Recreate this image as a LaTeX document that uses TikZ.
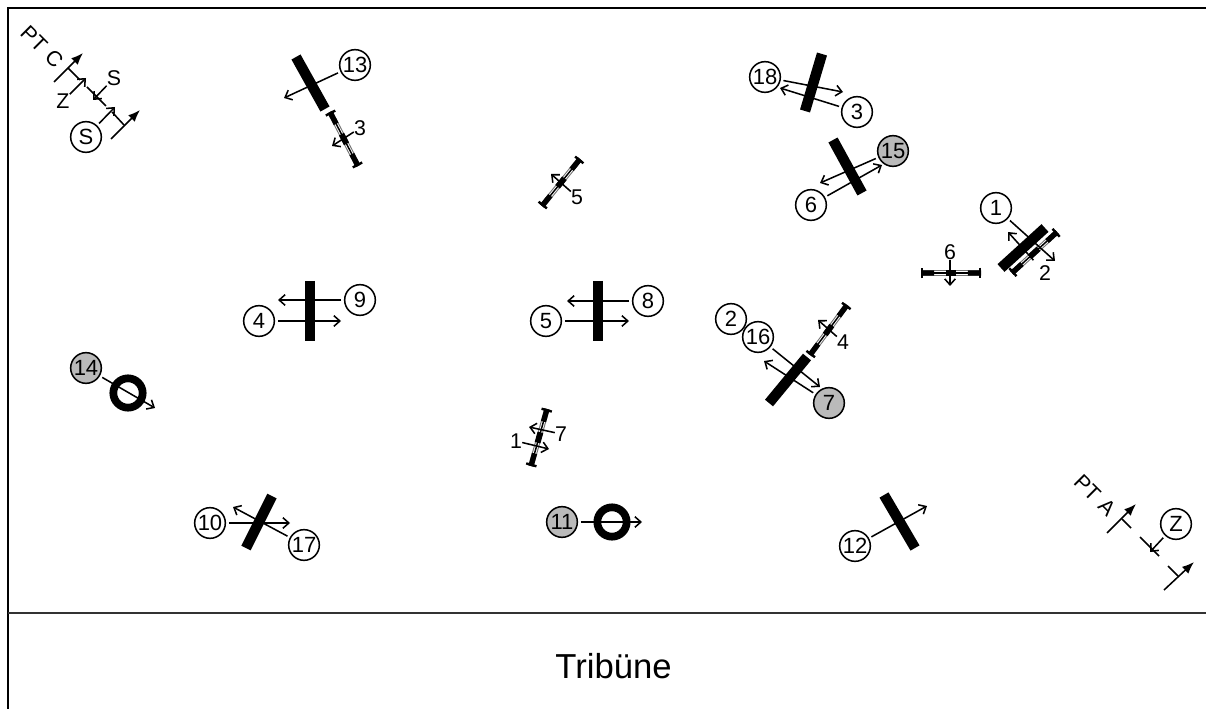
\documentclass[tikz,border=0pt]{standalone}
\usepackage{fontspec}
\setmainfont{Liberation Sans}
\usetikzlibrary{arrows.meta,calc}
\tikzset{
  num/.style={circle,draw=black,line width=1.15pt,fill=white,minimum size=23pt,inner sep=0pt,font=\fontsize{16.5}{16.5}\selectfont},
  numg/.style={num,fill=black!27},
  lab/.style={inner sep=0pt,font=\fontsize{16}{16}\selectfont},
  bar/.style={line width=7.8pt,black},
  ringo/.style={circle,draw=black,line width=5.8pt,minimum size=22pt,inner sep=0pt,fill=none},
  arr/.style={line width=1.15pt,-{Straight Barb[length=4.5pt,width=8pt,line width=1.15pt]}},
  arrc/.style={arr,shorten <=2pt},
  pole/.style={line width=1.15pt,-{Latex[length=9pt,width=7pt]}},
  plain/.style={line width=1.15pt}
}
% small obstacle: A, B
\newcommand{\obst}[2]{%
  \draw[line width=4pt,black!55] (#1) -- (#2);
  \draw[line width=2.4pt,white] (#1) -- (#2);
  \draw[line width=4pt,black] (#1) -- ($(#1)!0.22!(#2)$);
  \draw[line width=4pt,black] ($(#1)!0.78!(#2)$) -- (#2);
  \draw[line width=4.4pt,black] ($(#1)!0.41!(#2)$) -- ($(#1)!0.59!(#2)$);
  \draw[line width=1.1pt,{Bar[width=8pt,line width=1.8pt]}-{Bar[width=8pt,line width=1.8pt]}] (#1) -- (#2);
}
\begin{document}
\begin{tikzpicture}[x=0.75pt,y=-0.75pt]
\useasboundingbox (0,0) rectangle (1206,709);
\fill[white] (0,0) rectangle (1206,709);
\draw[line width=2pt] (8,709) -- (8,8) -- (1206,8);
\draw[line width=1.5pt,black!80] (8,613) -- (1206,613);
\node[font=\fontsize{26}{26}\selectfont,inner sep=0pt] (trib) at (613.5,666) {Tribüne};

% PT C
\node[lab,rotate=-45] (ptc) at (42,46.5) {PT\,\,C};
\coordinate (c1a) at (54,82); \coordinate (c1b) at (83,53);
\coordinate (c2a) at (111,139); \coordinate (c2b) at (140,110);
\draw[pole] (c1a) -- (c1b);
\draw[pole] (c2a) -- (c2b);
\coordinate (c1m) at (68,68); \coordinate (c2m) at (124,125);
\draw[plain] (c1m) -- (80,80);
\draw[plain] (87,87) -- (106,106);
\draw[plain] (112,112) -- (c2m);
\node[lab] (cz) at (63,101) {Z};
\node[lab] (cs) at (114,78) {S};
\node[num] (sc) at (86,137) {S};
\coordinate (czh) at (86,78); \coordinate (csh) at (93,100); \coordinate (cch) at (115,107);
\draw[arr] (cz) -- (czh);
\draw[arr] (cs) -- (csh);
\draw[arrc] (sc) -- (cch);

% PT A
\node[lab,rotate=-45] (pta) at (1095,495) {PT\,\,A};
\coordinate (a1a) at (1107,533); \coordinate (a1b) at (1136,504);
\coordinate (a2a) at (1164,590); \coordinate (a2b) at (1194,562);
\draw[pole] (a1a) -- (a1b);
\draw[pole] (a2a) -- (a2b);
\coordinate (a1m) at (1122,519); \coordinate (a2m) at (1178,576);
\draw[plain] (a1m) -- (1131,528);
\draw[plain] (1140,537) -- (1159,556);
\draw[plain] (1168,566) -- (a2m);
\node[num] (zc) at (1176,524) {Z};
\coordinate (azh) at (1150,552);
\draw[arrc] (zc) -- (azh);

% 13 + 3
\coordinate (b13a) at (296,57); \coordinate (b13b) at (325,109);
\draw[bar] (b13a) -- (b13b);
\node[num] (n13) at (355,65) {13};
\coordinate (h13) at (284,98);
\draw[arrc] (n13) -- (h13);
\coordinate (o3a) at (330,112); \coordinate (o3b) at (358,166);
\obst{o3a}{o3b}
\node[lab] (t3) at (360,128) {3};
\coordinate (h3) at (332,146);
\draw[arr] (t3) -- (h3);

% 5 small
\coordinate (o5a) at (542,206); \coordinate (o5b) at (580,159);
\obst{o5a}{o5b}
\node[lab] (t5) at (577,197) {5};
\coordinate (h5) at (551,174);
\draw[arr] (t5) -- (h5);

% 7 / 1 small
\coordinate (o7a) at (531,466); \coordinate (o7b) at (547,409);
\obst{o7a}{o7b}
\node[lab] (t7) at (561,434) {7};
\node[lab] (t1) at (516,441) {1};
\coordinate (h7) at (529,427); \coordinate (h1) at (549,449);
\draw[arr] (t7) -- (h7);
\draw[arr] (t1) -- (h1);

% 6 small
\coordinate (o6a) at (921,273); \coordinate (o6b) at (981,273);
\obst{o6a}{o6b}
\node[lab] (t6) at (950,252) {6};
\coordinate (h6) at (950,286);
\draw[arr] (t6) -- (h6);

% 1 / 2
\coordinate (o2a) at (1012,273); \coordinate (o2b) at (1057,232);
\obst{o2a}{o2b}
\coordinate (b1a) at (1001,268); \coordinate (b1b) at (1045,228);
\draw[bar] (b1a) -- (b1b);
\node[num] (n1) at (996,208) {1};
\node[lab] (t2) at (1045,273) {2};
\coordinate (h1b) at (1055,261); \coordinate (h2) at (1008,232);
\draw[arrc] (n1) -- (h1b);
\draw[arr,shorten <=6pt] (t2) -- (h2);

% 4 small, 2 / 16 / 7
\coordinate (o4a) at (810,355); \coordinate (o4b) at (847,305);
\obst{o4a}{o4b}
\node[lab] (t4) at (843,342) {4};
\coordinate (h4) at (818,320);
\draw[arr] (t4) -- (h4);
\coordinate (b7a) at (769,403); \coordinate (b7b) at (807,357);
\draw[bar] (b7a) -- (b7b);
\node[num] (n2) at (731,319) {2};
\node[num] (n16) at (758,337) {16};
\node[numg] (n7) at (829,403) {7};
\coordinate (h16) at (820,387); \coordinate (h7b) at (764,361);
\draw[arrc] (n16) -- (h16);
\draw[arrc] (n7) -- (h7b);

% 18 / 3
\coordinate (b18a) at (822,54); \coordinate (b18b) at (805,111);
\draw[bar] (b18a) -- (b18b);
\node[num] (n18) at (765,77) {18};
\node[num] (n3) at (857,112) {3};
\coordinate (h18) at (843,92); \coordinate (h3b) at (780,88);
\draw[arrc] (n18) -- (h18);
\draw[arrc] (n3) -- (h3b);

% 15 / 6
\coordinate (b15a) at (833,140); \coordinate (b15b) at (862,193);
\draw[bar] (b15a) -- (b15b);
\node[numg] (n15) at (893,151) {15};
\node[num] (n6) at (811,205) {6};
\coordinate (h15) at (820,183); \coordinate (h6b) at (882,165);
\draw[arrc] (n15) -- (h15);
\draw[arrc] (n6) -- (h6b);

% 4 / 9
\coordinate (b9a) at (310,281); \coordinate (b9b) at (310,341);
\draw[bar] (b9a) -- (b9b);
\node[num] (n9) at (360,300) {9};
\node[num] (n4) at (259,321) {4};
\coordinate (h9) at (278,300); \coordinate (h4b) at (341,321);
\draw[arrc] (n9) -- (h9);
\draw[arrc] (n4) -- (h4b);

% 5 / 8
\coordinate (b8a) at (598,281); \coordinate (b8b) at (598,341);
\draw[bar] (b8a) -- (b8b);
\node[num] (n8) at (648,301) {8};
\node[num] (n5) at (546,321) {5};
\coordinate (h8) at (567,301); \coordinate (h5b) at (629,321);
\draw[arrc] (n8) -- (h8);
\draw[arrc] (n5) -- (h5b);

% 14
\node[ringo] (r14) at (128,393) {};
\node[numg] (n14) at (86,368) {14};
\coordinate (h14) at (155,408);
\draw[arrc] (n14) -- (h14);

% 11
\node[ringo] (r11) at (612,522) {};
\node[numg] (n11) at (562,522) {11};
\coordinate (h11) at (642,522);
\draw[arrc] (n11) -- (h11);

% 10 / 17
\coordinate (b10a) at (272,496); \coordinate (b10b) at (246,548);
\draw[bar] (b10a) -- (b10b);
\node[num] (n10) at (210,523) {10};
\node[num] (n17) at (304,545) {17};
\coordinate (h10) at (290,523); \coordinate (h17) at (233,507);
\draw[arrc] (n10) -- (h10);
\draw[arrc] (n17) -- (h17);

% 12
\coordinate (b12a) at (884,495); \coordinate (b12b) at (915,548);
\draw[bar] (b12a) -- (b12b);
\node[num] (n12) at (855,546) {12};
\coordinate (h12) at (927,506);
\draw[arrc] (n12) -- (h12);
\end{tikzpicture}
\end{document}
